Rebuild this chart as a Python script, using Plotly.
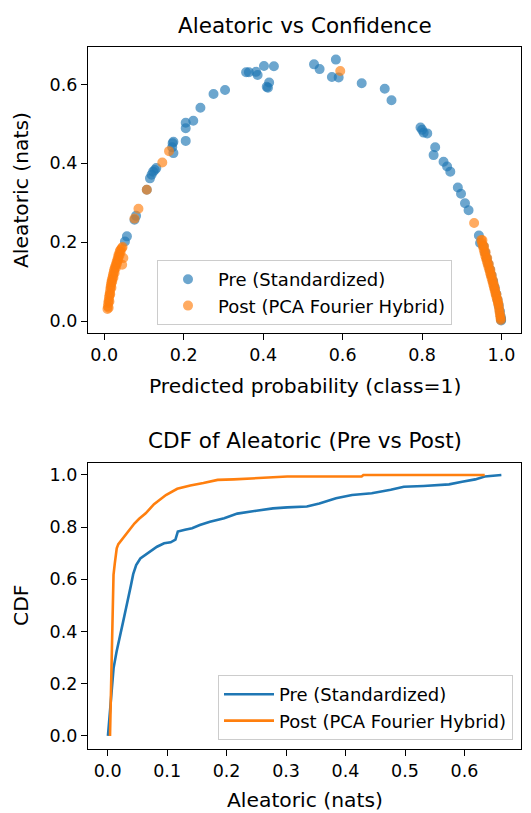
import plotly.graph_objects as go

# ---------------- data ----------------
pre_prob = [0.052, 0.057, 0.076, 0.080, 0.107, 0.115, 0.119, 0.123, 0.127, 0.131,
            0.171, 0.172, 0.174, 0.174, 0.205, 0.205, 0.205, 0.224, 0.242, 0.275,
            0.304, 0.357, 0.364, 0.382, 0.386, 0.402, 0.427, 0.409, 0.412, 0.415,
            0.528, 0.542, 0.583, 0.573, 0.590, 0.648, 0.706, 0.723, 0.796, 0.800,
            0.804, 0.813, 0.833, 0.829, 0.854, 0.863, 0.871, 0.890, 0.898, 0.908,
            0.917, 0.943, 0.946,
            0.955, 0.959, 0.963, 0.967, 0.971, 0.975, 0.979, 0.983, 0.987, 0.990,
            0.993, 0.996, 0.998, 0.999, 0.999]
pre_alea = [0.202, 0.215, 0.257, 0.267, 0.333, 0.362, 0.371, 0.379, 0.383, 0.388,
            0.441, 0.451, 0.455, 0.426, 0.457, 0.489, 0.503, 0.508, 0.541, 0.576,
            0.586, 0.631, 0.631, 0.632, 0.624, 0.647, 0.646, 0.594, 0.592, 0.605,
            0.651, 0.639, 0.663, 0.619, 0.618, 0.603, 0.589, 0.560, 0.491, 0.485,
            0.478, 0.476, 0.441, 0.421, 0.404, 0.392, 0.379, 0.339, 0.323, 0.299,
            0.281, 0.217, 0.198,
            0.190, 0.174, 0.159, 0.145, 0.131, 0.116, 0.101, 0.085, 0.069, 0.054,
            0.040, 0.025, 0.012, 0.005, 0.002]

post_prob = [0.594, 0.931, 0.163, 0.146, 0.107, 0.086, 0.076, 0.045,
             0.008, 0.009, 0.010, 0.011, 0.012, 0.013, 0.014, 0.015, 0.016, 0.017,
             0.018, 0.019, 0.021, 0.022, 0.024, 0.025, 0.027, 0.029, 0.031, 0.033,
             0.035, 0.036, 0.039, 0.041, 0.044, 0.046,
             0.011, 0.013, 0.015, 0.018, 0.020, 0.023, 0.026, 0.029, 0.032, 0.035,
             0.038, 0.041, 0.048,
             0.949, 0.951, 0.953, 0.955, 0.957, 0.959, 0.961, 0.963, 0.965, 0.967,
             0.969, 0.971, 0.973, 0.975, 0.977, 0.979, 0.981, 0.983, 0.985, 0.987,
             0.989, 0.991, 0.993, 0.994, 0.995, 0.996, 0.997, 0.998, 0.998,
             0.952, 0.956, 0.960, 0.964, 0.968, 0.972, 0.975, 0.978, 0.981, 0.984,
             0.987, 0.990, 0.992]
post_alea = [0.634, 0.249, 0.431, 0.402, 0.333, 0.285, 0.260, 0.143,
             0.031, 0.038, 0.046, 0.052, 0.060, 0.066, 0.072, 0.080, 0.087, 0.093,
             0.099, 0.105, 0.112, 0.118, 0.125, 0.131, 0.137, 0.143, 0.150, 0.156,
             0.163, 0.169, 0.177, 0.181, 0.185, 0.188,
             0.034, 0.050, 0.068, 0.085, 0.100, 0.110, 0.122, 0.135, 0.146, 0.155,
             0.166, 0.174, 0.160,
             0.206, 0.198, 0.190, 0.182, 0.174, 0.166, 0.159, 0.152, 0.145, 0.138,
             0.131, 0.123, 0.116, 0.109, 0.101, 0.093, 0.085, 0.077, 0.069, 0.062,
             0.054, 0.046, 0.037, 0.030, 0.023, 0.017, 0.011, 0.006, 0.003,
             0.205, 0.190, 0.175, 0.160, 0.145, 0.130, 0.117, 0.104, 0.092, 0.080,
             0.068, 0.055, 0.045]

cdf_pre_x = [0.0005, 0.003, 0.007, 0.010, 0.015, 0.021, 0.026, 0.031, 0.035, 0.039,
             0.043, 0.048, 0.055, 0.064, 0.073, 0.083, 0.095, 0.106, 0.114, 0.118,
             0.130, 0.142, 0.155, 0.172, 0.196, 0.218, 0.250, 0.278, 0.302, 0.335,
             0.356, 0.384, 0.411, 0.444, 0.476, 0.498, 0.531, 0.574, 0.596, 0.618,
             0.634, 0.662]
cdf_pre_y = [0.0, 0.07, 0.195, 0.26, 0.323, 0.38, 0.437, 0.49, 0.54, 0.575,
             0.62, 0.655, 0.68, 0.695, 0.708, 0.725, 0.738, 0.742, 0.752, 0.783,
             0.790, 0.796, 0.808, 0.821, 0.834, 0.852, 0.863, 0.872, 0.876, 0.879,
             0.891, 0.911, 0.923, 0.930, 0.943, 0.955, 0.958, 0.964, 0.974, 0.983,
             0.994, 1.0]

cdf_post_x = [0.004, 0.005, 0.007, 0.0099, 0.012, 0.0153, 0.018, 0.0235, 0.032, 0.045,
              0.053, 0.064, 0.078, 0.098, 0.117, 0.139, 0.161, 0.185, 0.212, 0.251,
              0.302, 0.427, 0.430, 0.634]
cdf_post_y = [0.0, 0.1, 0.31, 0.617, 0.66, 0.719, 0.735, 0.751, 0.778, 0.814,
              0.832, 0.853, 0.888, 0.923, 0.947, 0.960, 0.969, 0.981, 0.983, 0.988,
              0.994, 0.994, 1.0, 1.0]

top_xticks = [0.0, 0.2, 0.4, 0.6, 0.8, 1.0]
top_yticks = [0.0, 0.2, 0.4, 0.6]
bot_xticks = [0.0, 0.1, 0.2, 0.3, 0.4, 0.5, 0.6]
bot_yticks = [0.0, 0.2, 0.4, 0.6, 0.8, 1.0]

BLUE = "#1f77b4"
ORANGE = "#ff7f0e"
W, H = 531, 813
FONT = "DejaVu Sans"
FS_TICK = 17.5
FS_LEG = 18
FS_LABEL = 20.3
FS_TITLE = 21.5
AX_L, AX_R = 88.0, 521.0
AX_C = (AX_L + AX_R) / 2


def px(x):
    return x / W


def py(y):
    return 1 - y / H


fig = go.Figure()

fig.add_trace(go.Scatter(
    x=pre_prob, y=pre_alea, mode="markers", name="Pre (Standardized)",
    marker=dict(color=BLUE, size=8.5, opacity=0.65, line=dict(color=BLUE, width=1.5)),
    xaxis="x", yaxis="y", legend="legend"))
fig.add_trace(go.Scatter(
    x=post_prob, y=post_alea, mode="markers", name="Post (PCA Fourier Hybrid)",
    marker=dict(color=ORANGE, size=8.5, opacity=0.65, line=dict(color=ORANGE, width=1.5)),
    xaxis="x", yaxis="y", legend="legend"))

fig.add_trace(go.Scatter(
    x=cdf_pre_x, y=cdf_pre_y, mode="lines", name="Pre (Standardized)",
    line=dict(color=BLUE, width=2.6), xaxis="x2", yaxis="y2", legend="legend2"))
fig.add_trace(go.Scatter(
    x=cdf_post_x, y=cdf_post_y, mode="lines", name="Post (PCA Fourier Hybrid)",
    line=dict(color=ORANGE, width=2.6), xaxis="x2", yaxis="y2", legend="legend2"))

axis_common = dict(showline=True, mirror=True, linecolor="black", linewidth=1.3,
                   ticks="outside", ticklen=6, tickwidth=1.3, tickcolor="black",
                   showgrid=False, zeroline=False, tickformat=".1f",
                   tickfont=dict(family=FONT, size=FS_TICK, color="black"))

x_dom = [px(AX_L), px(AX_R)]

legend_common = dict(bgcolor="rgba(255,255,255,0.8)", bordercolor="#cccccc",
                     borderwidth=1, itemwidth=50,
                     font=dict(family=FONT, size=FS_LEG, color="black"))

fig.update_layout(
    width=W, height=H,
    margin=dict(l=0, r=0, t=0, b=0),
    paper_bgcolor="white", plot_bgcolor="white",
    font=dict(family=FONT, size=FS_TICK, color="black"),
    xaxis=dict(domain=x_dom, range=[-0.041, 1.049], tickvals=top_xticks,
               anchor="y", **axis_common),
    yaxis=dict(domain=[py(333), py(47)], range=[-0.030, 0.695], tickvals=top_yticks,
               anchor="x", **axis_common),
    xaxis2=dict(domain=x_dom, range=[-0.033, 0.695], tickvals=bot_xticks,
                anchor="y2", **axis_common),
    yaxis2=dict(domain=[py(749), py(462.7)], range=[-0.05, 1.047], tickvals=bot_yticks,
                anchor="x2", **axis_common),
    legend=dict(x=px(AX_C), xanchor="center", y=py(325), yanchor="bottom", **legend_common),
    legend2=dict(x=px(AX_R - 8), xanchor="right", y=py(740), yanchor="bottom", **legend_common),
    showlegend=True,
)

ann = [
    dict(text="Aleatoric vs Confidence", x=px(AX_C), y=py(25), size=FS_TITLE, angle=0),
    dict(text="Predicted probability (class=1)", x=px(AX_C), y=py(386), size=FS_LABEL, angle=0),
    dict(text="Aleatoric (nats)", x=px(21), y=py(190), size=FS_LABEL, angle=-90),
    dict(text="CDF of Aleatoric (Pre vs Post)", x=px(AX_C), y=py(440), size=FS_TITLE, angle=0),
    dict(text="Aleatoric (nats)", x=px(AX_C), y=py(800), size=FS_LABEL, angle=0),
    dict(text="CDF", x=px(21), y=py(606), size=FS_LABEL, angle=-90),
]
for a in ann:
    fig.add_annotation(text=a["text"], x=a["x"], y=a["y"], xref="paper", yref="paper",
                       xanchor="center", yanchor="middle", showarrow=False,
                       textangle=a["angle"],
                       font=dict(family=FONT, size=a["size"], color="black"))

fig.write_html("out.html")
